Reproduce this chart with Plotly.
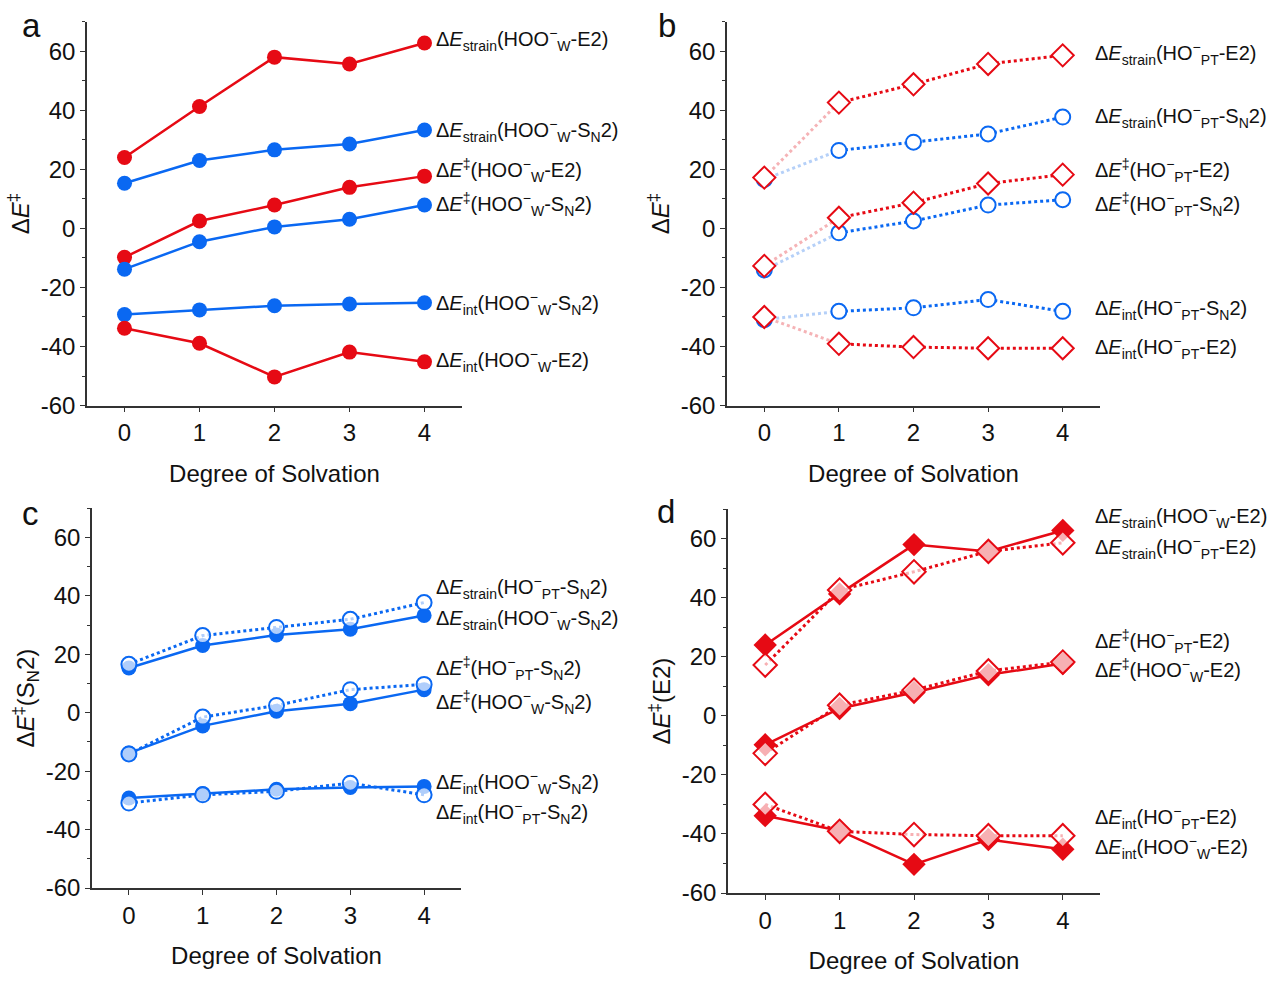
import plotly.graph_objects as go

# ---------------- data ----------------
degrees = [0, 1, 2, 3, 4]
tick_labels = ["0", "1", "2", "3", "4"]
y_ticks = [-60, -40, -20, 0, 20, 40, 60]
y_tick_labels = ["-60", "-40", "-20", "0", "20", "40", "60"]

# HOO-(W) series (filled markers, solid lines)
hoo_strain_e2 = [24.0, 41.3, 58.0, 55.7, 62.8]
hoo_strain_sn2 = [15.3, 23.0, 26.6, 28.6, 33.3]
hoo_barrier_e2 = [-9.8, 2.5, 7.9, 13.9, 17.7]
hoo_barrier_sn2 = [-13.8, -4.5, 0.5, 3.1, 7.9]
hoo_int_sn2 = [-29.2, -27.6, -26.2, -25.6, -25.2]
hoo_int_e2 = [-33.8, -38.9, -50.3, -41.9, -45.2]

# HO-(PT) series (open markers, dotted lines)
ho_strain_e2 = [17.2, 42.6, 48.8, 55.7, 58.6]
ho_strain_sn2 = [16.6, 26.4, 29.2, 32.0, 37.7]
ho_barrier_e2 = [-12.7, 3.6, 8.7, 15.2, 18.2]
ho_barrier_sn2 = [-14.1, -1.5, 2.5, 7.9, 9.7]
ho_int_sn2 = [-30.9, -28.1, -26.9, -24.1, -28.1]
ho_int_e2 = [-30.0, -39.1, -40.2, -40.6, -40.6]

RED = "#E60A14"
BLUE = "#0A68F2"
PALE_RED = "#F5B3B6"
PALE_BLUE = "#B5D0F8"
SEMI_WHITE = "rgba(255,255,255,0.68)"
FONT = "Liberation Sans, Arial, sans-serif"

fig = go.Figure()

def add(xa, ya, y, color, symbol, filled, dash, size, fill=None, name=""):
    fig.add_trace(go.Scatter(
        x=degrees, y=y, xaxis=xa, yaxis=ya, mode="lines+markers", name=name,
        line=dict(color=color, width=2.5 if dash == "solid" else 3, dash=dash),
        marker=dict(symbol=symbol, size=size,
                    color=color if filled else (fill or "white"),
                    line=dict(color=color, width=0 if filled else 2)),
        showlegend=False,
    ))

# ---------- panel a ----------
for y, c in [(hoo_strain_e2, RED), (hoo_strain_sn2, BLUE), (hoo_barrier_e2, RED),
             (hoo_barrier_sn2, BLUE), (hoo_int_sn2, BLUE), (hoo_int_e2, RED)]:
    add("x", "y", y, c, "circle", True, "solid", 15)

# ---------- panel b ----------
def add_b(y, color, pale, symbol, size):
    # faded first segment
    fig.add_trace(go.Scatter(x=degrees[:2], y=y[:2], xaxis="x2", yaxis="y2", mode="lines",
                             line=dict(color=pale, width=3, dash="dot"), showlegend=False))
    fig.add_trace(go.Scatter(x=degrees[1:], y=y[1:], xaxis="x2", yaxis="y2", mode="lines",
                             line=dict(color=color, width=3, dash="dot"), showlegend=False))
    fig.add_trace(go.Scatter(x=degrees, y=y, xaxis="x2", yaxis="y2", mode="markers",
                             marker=dict(symbol=symbol, size=size, color="white",
                                         line=dict(color=color, width=2)), showlegend=False))

for y in [ho_strain_sn2, ho_barrier_sn2, ho_int_sn2]:
    add_b(y, BLUE, PALE_BLUE, "circle", 15)
for y in [ho_strain_e2, ho_barrier_e2, ho_int_e2]:
    add_b(y, RED, PALE_RED, "diamond", 17)

# ---------- panel c ----------
for y in [hoo_strain_sn2, hoo_barrier_sn2, hoo_int_sn2]:
    add("x3", "y3", y, BLUE, "circle", True, "solid", 15)
for y in [ho_strain_sn2, ho_barrier_sn2, ho_int_sn2]:
    add("x3", "y3", y, BLUE, "circle", False, "dot", 15, fill=SEMI_WHITE)

# ---------- panel d ----------
for y in [hoo_strain_e2, hoo_barrier_e2, hoo_int_e2]:
    add("x4", "y4", y, RED, "diamond", True, "solid", 18)
for y in [ho_strain_e2, ho_barrier_e2, ho_int_e2]:
    add("x4", "y4", y, RED, "diamond", False, "dot", 18, fill=SEMI_WHITE)

# ---------------- axes ----------------
W, H = 1270, 981

def xd(l, r):
    return [l / W, r / W]

def yd(top, bottom):
    return [1 - bottom / H, 1 - top / H]

def xaxis(dom, anchor):
    return dict(domain=dom, anchor=anchor, range=[-0.5, 4.5], tickmode="array",
                tickvals=degrees, ticktext=tick_labels, ticks="outside", ticklen=5,
                tickwidth=1.3, tickcolor="#333", showline=True, linecolor="#333",
                linewidth=1.5, showgrid=False, zeroline=False,
                tickfont=dict(size=24, family=FONT, color="#111"),
                title=dict(text="Degree of Solvation", font=dict(size=24, family=FONT, color="#111"),
                           standoff=20))

def yaxis(dom, anchor, title):
    return dict(domain=dom, anchor=anchor, range=[-60, 70], tickmode="array",
                tickvals=y_ticks, ticktext=y_tick_labels, ticks="outside", ticklen=5,
                tickwidth=1.3, tickcolor="#333", showline=True, linecolor="#333",
                linewidth=1.5, showgrid=False, zeroline=False,
                minor=dict(tickmode="array", tickvals=[-50, -30, -10, 10, 30, 50, 70],
                           ticks="outside", ticklen=3, tickwidth=1.2, tickcolor="#333"),
                tickfont=dict(size=24, family=FONT, color="#111"),
                title=dict(text=title, font=dict(size=24, family=FONT, color="#111"),
                           standoff=4))

ytitle = "Δ<i>E</i><sup>‡</sup>"
fig.update_layout(
    width=W, height=H, margin=dict(l=0, r=0, t=0, b=0),
    paper_bgcolor="white", plot_bgcolor="white",
    font=dict(family=FONT, color="#111"),
    xaxis=xaxis(xd(87, 462), "y"), yaxis=yaxis(yd(22, 411), "x", ytitle),
    xaxis2=xaxis(xd(727, 1100), "y2"), yaxis2=yaxis(yd(22, 411), "x2", ytitle),
    xaxis3=xaxis(xd(92, 461), "y3"), yaxis3=yaxis(yd(515, 900), "x3", ytitle + "(S<sub>N</sub>2)"),
    xaxis4=xaxis(xd(728, 1100), "y4"), yaxis4=yaxis(yd(516, 905), "x4", ytitle + "(E2)"),
)

# ---------------- labels ----------------
def lab(kind, reag, rxn):
    sub = {"strain": "<sub>strain</sub>", "int": "<sub>int</sub>", "bar": "<sup>‡</sup>"}[kind]
    r = "HOO<sup>−</sup><sub>W</sub>" if reag == "W" else "HO<sup>−</sup><sub>PT</sub>"
    rx = "S<sub>N</sub>2" if rxn == "SN2" else "E2"
    return f"Δ<i>E</i>{sub}({r}-{rx})"

labels_a = [("strain", "W", "E2", 64.0), ("strain", "W", "SN2", 33.0), ("bar", "W", "E2", 19.5),
            ("bar", "W", "SN2", 8.0), ("int", "W", "SN2", -25.5), ("int", "W", "E2", -44.8)]
labels_b = [("strain", "PT", "E2", 59.3), ("strain", "PT", "SN2", 38.0), ("bar", "PT", "E2", 19.5),
            ("bar", "PT", "SN2", 8.0), ("int", "PT", "SN2", -27.0), ("int", "PT", "E2", -40.3)]
labels_c = [("strain", "PT", "SN2", 42.8), ("strain", "W", "SN2", 32.3), ("bar", "PT", "SN2", 15.0),
            ("bar", "W", "SN2", 3.5), ("int", "W", "SN2", -23.8), ("int", "PT", "SN2", -34.3)]
labels_d = [("strain", "W", "E2", 67.6), ("strain", "PT", "E2", 57.0), ("bar", "PT", "E2", 25.2),
            ("bar", "W", "E2", 15.5), ("int", "PT", "E2", -34.3), ("int", "W", "E2", -44.7)]

annos = []
for labels, xa, ya, xpos in [(labels_a, "x", "y", 4.13), (labels_b, "x2", "y2", 4.40),
                             (labels_c, "x3", "y3", 4.14), (labels_d, "x4", "y4", 4.40)]:
    for kind, reag, rxn, yv in labels:
        annos.append(dict(x=xpos, y=yv, xref=xa, yref=ya, text=lab(kind, reag, rxn),
                          showarrow=False, xanchor="left", yanchor="middle",
                          font=dict(size=20, family=FONT, color="#111")))

for letter, px, py in [("a", 20, 26), ("b", 656, 26), ("c", 20, 520), ("d", 655, 518)]:
    annos.append(dict(x=px / W, y=1 - py / H, xref="paper", yref="paper", text=letter,
                      showarrow=False, xanchor="left", yanchor="middle",
                      font=dict(size=33, family=FONT, color="#111")))

fig.update_layout(annotations=annos)
fig.write_html("out.html")
